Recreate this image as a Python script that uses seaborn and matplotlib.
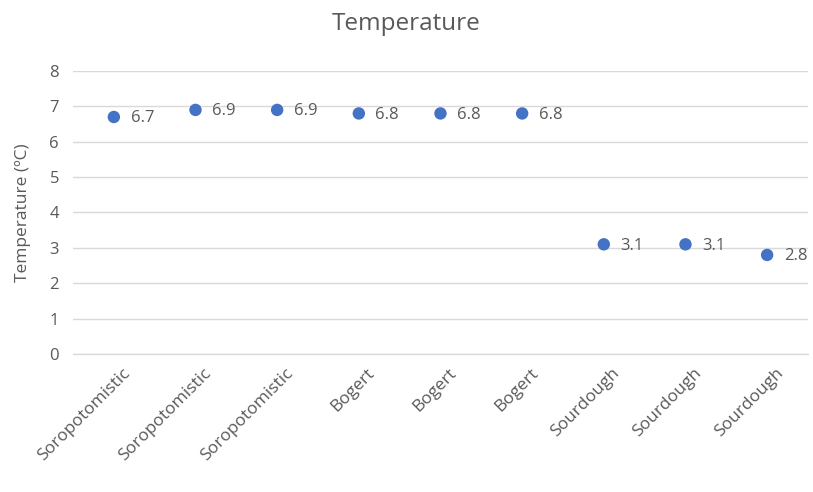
import pandas as pd
import matplotlib.pyplot as plt
import matplotlib.transforms as mtransforms
import seaborn as sns

sites = ["Soropotomistic", "Soropotomistic", "Soropotomistic",
         "Bogert", "Bogert", "Bogert",
         "Sourdough", "Sourdough", "Sourdough"]
temps = [6.7, 6.9, 6.9, 6.8, 6.8, 6.8, 3.1, 3.1, 2.8]

df = pd.DataFrame({"pos": range(len(sites)), "site": sites, "temp": temps})

sns.set_theme(style="white")
plt.rcParams["font.family"] = ["Open Sans", "DejaVu Sans"]
grey = "#595959"

fig = plt.figure(figsize=(8.13, 4.92), dpi=100)
ax = fig.add_axes([0.0898, 0.2805, 0.904, 0.5752])

sns.scatterplot(data=df, x="pos", y="temp", ax=ax, color="#4472C4",
                s=80, edgecolor="none", zorder=3)

for _, r in df.iterrows():
    ax.annotate(f"{r['temp']:.1f}", (r["pos"], r["temp"]), xytext=(12, -1),
                textcoords="offset points", ha="left", va="center",
                fontsize=12, color=grey)

ax.set_xlim(-0.5, len(sites) - 0.5)
ax.set_ylim(0, 8)
ax.set_yticks(range(0, 9))
ax.set_xticks(df["pos"])
ax.set_xticklabels(sites, rotation=45, ha="right", rotation_mode="anchor")
ax.tick_params(axis="x", colors=grey, labelsize=12.5, length=0, pad=8)
ax.tick_params(axis="y", colors=grey, labelsize=12, length=0, pad=10)
shift = mtransforms.ScaledTranslation(0.08, 0, fig.dpi_scale_trans)
for lbl in ax.get_xticklabels():
    lbl.set_transform(lbl.get_transform() + shift)
ax.yaxis.grid(True, color="#d9d9d9", linewidth=1)
ax.axhline(0, color="#d9d9d9", linewidth=1, clip_on=False, zorder=1)
ax.set_axisbelow(True)
for s in ax.spines.values():
    s.set_visible(False)

ax.set_xlabel("")
ax.set_ylabel("Temperature (ºC)", color=grey, fontsize=12.5, labelpad=13)
fig.text(0.5, 0.952, "Temperature", ha="center", va="center",
         fontsize=17.5, color=grey)

fig.savefig("out.png", dpi=100)
